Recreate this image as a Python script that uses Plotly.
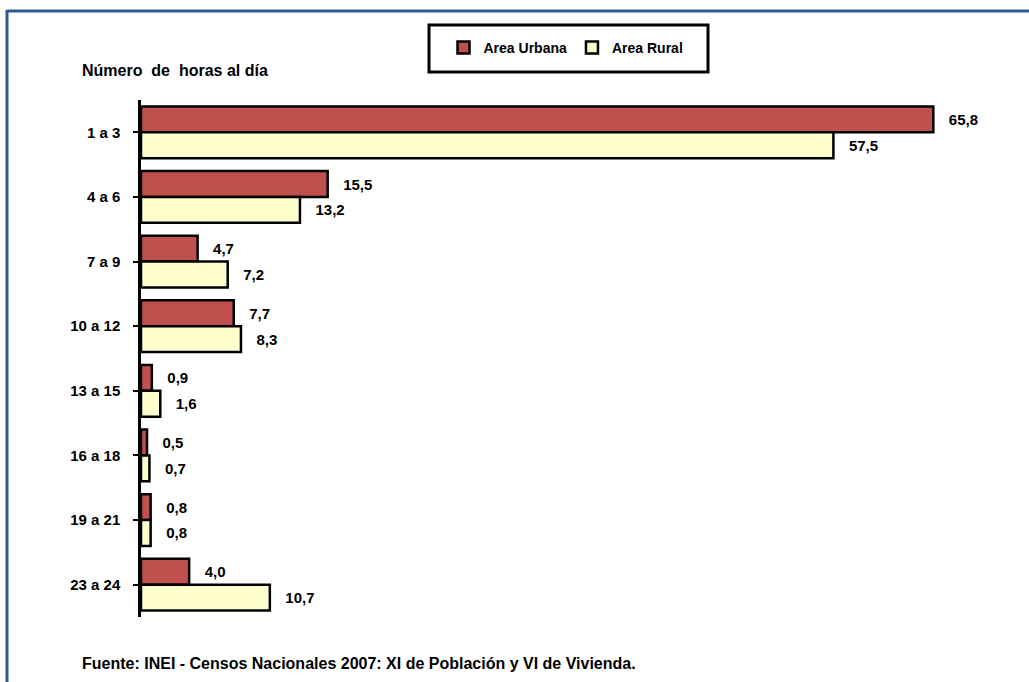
import plotly.graph_objects as go

categories = ["1 a 3", "4 a 6", "7 a 9", "10 a 12", "13 a 15", "16 a 18", "19 a 21", "23 a 24"]
urbana = [65.8, 15.5, 4.7, 7.7, 0.9, 0.5, 0.8, 4.0]
rural = [57.5, 13.2, 7.2, 8.3, 1.6, 0.7, 0.8, 10.7]

W, H = 1029, 682
ML, MR, MT, MB = 141, 21, 100, 65
PW, PH = W - ML - MR, H - MT - MB

def px(x):
    return (x - ML) / PW

def py(y):
    return (H - MB - y) / PH

NARROW = "Liberation Sans Narrow, Arial Narrow, Liberation Sans, Arial"
TXT = dict(family=NARROW, size=15, color="black", weight="bold")

fig = go.Figure()
fig.add_trace(go.Bar(
    y=categories, x=urbana, name="Area Urbana", orientation="h",
    marker=dict(color="#C0504D", line=dict(color="black", width=2.5)),
    texttemplate="   %{x:.1f}", textposition="outside", textfont=TXT,
    constraintext="none", cliponaxis=False,
))
fig.add_trace(go.Bar(
    y=categories, x=rural, name="Area Rural", orientation="h",
    marker=dict(color="#FFFFCC", line=dict(color="black", width=2.5)),
    texttemplate="   %{x:.1f}", textposition="outside", textfont=TXT,
    constraintext="none", cliponaxis=False,
))

shapes = [
    # blue frame (top and left)
    dict(type="line", xref="paper", yref="paper", x0=px(7), x1=px(W + 5), y0=py(11), y1=py(11),
         line=dict(color="#2E5A94", width=3)),
    dict(type="line", xref="paper", yref="paper", x0=px(7), x1=px(7), y0=py(10), y1=py(H + 5),
         line=dict(color="#2E5A94", width=3)),
    # legend box
    dict(type="rect", xref="paper", yref="paper", x0=px(429), x1=px(708), y0=py(25), y1=py(72),
         line=dict(color="black", width=3), fillcolor="rgba(0,0,0,0)"),
]

fig.update_layout(
    width=W, height=H,
    margin=dict(l=ML, r=MR, t=MT, b=MB),
    paper_bgcolor="white", plot_bgcolor="white",
    barmode="group", bargap=0.2, bargroupgap=0,
    separators=",.",
    showlegend=True,
    legend=dict(orientation="h", x=px(566), xanchor="center", y=py(48), yanchor="middle",
                font=dict(family=NARROW, size=14, color="black", weight="bold"),
                bgcolor="rgba(0,0,0,0)", itemwidth=30, traceorder="normal"),
    xaxis=dict(range=[0, 72], visible=False, showgrid=False, zeroline=False),
    yaxis=dict(autorange="reversed", showline=True, linecolor="black", linewidth=2.5,
               ticks="outside", ticklen=5, tickwidth=2, tickcolor="black",
               ticklabelstandoff=10,
               tickfont=dict(family=NARROW, size=15, color="black", weight="bold"),
               showgrid=False, zeroline=False),
    shapes=shapes,
    annotations=[
        dict(text="Número  de  horas al día", xref="paper", yref="paper", x=px(80), y=py(70),
             xanchor="left", yanchor="middle", showarrow=False,
             font=dict(family="Liberation Sans, Arial", size=16, color="black", weight="bold")),
        dict(text="Fuente: INEI - Censos Nacionales 2007: XI de Población y VI de Vivienda.",
             xref="paper", yref="paper", x=px(80), y=py(663),
             xanchor="left", yanchor="middle", showarrow=False,
             font=dict(family=NARROW, size=16, color="black", weight="bold")),
    ],
)

fig.write_html("out.html", config={"displayModeBar": False},
               post_script="document.body.style.margin='0';document.body.style.overflow='hidden';")
